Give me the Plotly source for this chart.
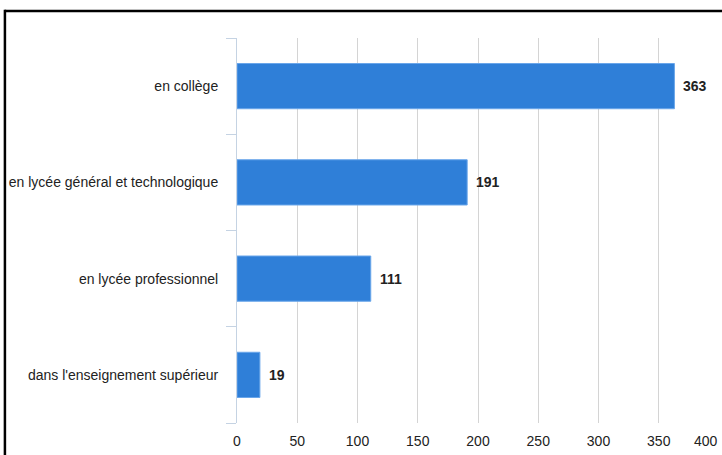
import plotly.graph_objects as go

categories = ["en collège", "en lycée général et technologique", "en lycée professionnel", "dans l'enseignement supérieur"]
values = [363, 191, 111, 19]
x_ticks = [0, 50, 100, 150, 200, 250, 300, 350, 400]
x_tick_labels = ["0", "50", "100", "150", "200", "250", "300", "350", "400"]

FONT = "Liberation Sans, Arial, Helvetica, sans-serif"

fig = go.Figure()
fig.add_trace(go.Bar(
    y=categories,
    x=values,
    orientation="h",
    width=0.47,
    marker=dict(color="#2f7fd8", line=dict(color="#6aa6ea", width=1)),
    hoverinfo="skip",
))

for c, v in zip(categories, values):
    fig.add_annotation(x=v, y=c, text=f"<b>{v}</b>", showarrow=False,
                       xanchor="left", xshift=7,
                       font=dict(family=FONT, size=14, color="#222222"))

# last tick label is right-aligned so it stays inside the page
fig.add_annotation(x=x_ticks[-1], xref="x", y=-0.047, yref="paper",
                   text=x_tick_labels[-1], showarrow=False,
                   xanchor="right", yanchor="middle", borderpad=0,
                   font=dict(family=FONT, size=14, color="#222222"))

fig.update_layout(
    width=722, height=455,
    margin=dict(l=237, r=3, t=38, b=32),
    paper_bgcolor="white", plot_bgcolor="white",
    showlegend=False,
    font=dict(family=FONT, size=14, color="#222222"),
    xaxis=dict(range=[0, 400], tickvals=x_ticks,
               ticktext=x_tick_labels[:-1] + [""],
               showgrid=True, gridcolor="#d4d4d4", gridwidth=1,
               zeroline=False, showline=False, ticks="", fixedrange=True,
               ticklabelstandoff=8, automargin=False),
    yaxis=dict(categoryorder="array", categoryarray=categories[::-1],
               range=[-0.5, 3.5], autorange=False, fixedrange=True,
               showgrid=False, zeroline=False, automargin=False,
               showline=True, linecolor="#c5d3e3", linewidth=1,
               ticks="outside", tickson="boundaries", ticklen=10,
               tickcolor="#c5d3e3", tickwidth=1, ticklabelstandoff=15),
    shapes=[
        dict(type="line", xref="paper", yref="paper",
             x0=-0.482, x1=1.1, y0=1.0701, y1=1.0701,
             line=dict(color="black", width=2.5)),
        dict(type="line", xref="paper", yref="paper",
             x0=-0.4815, x1=-0.4815, y0=1.0734, y1=-0.2,
             line=dict(color="black", width=2.5)),
    ],
)

fig.write_html("out.html",
               config={"displayModeBar": False},
               post_script="document.body.style.margin='0';document.body.style.overflow='hidden';")
